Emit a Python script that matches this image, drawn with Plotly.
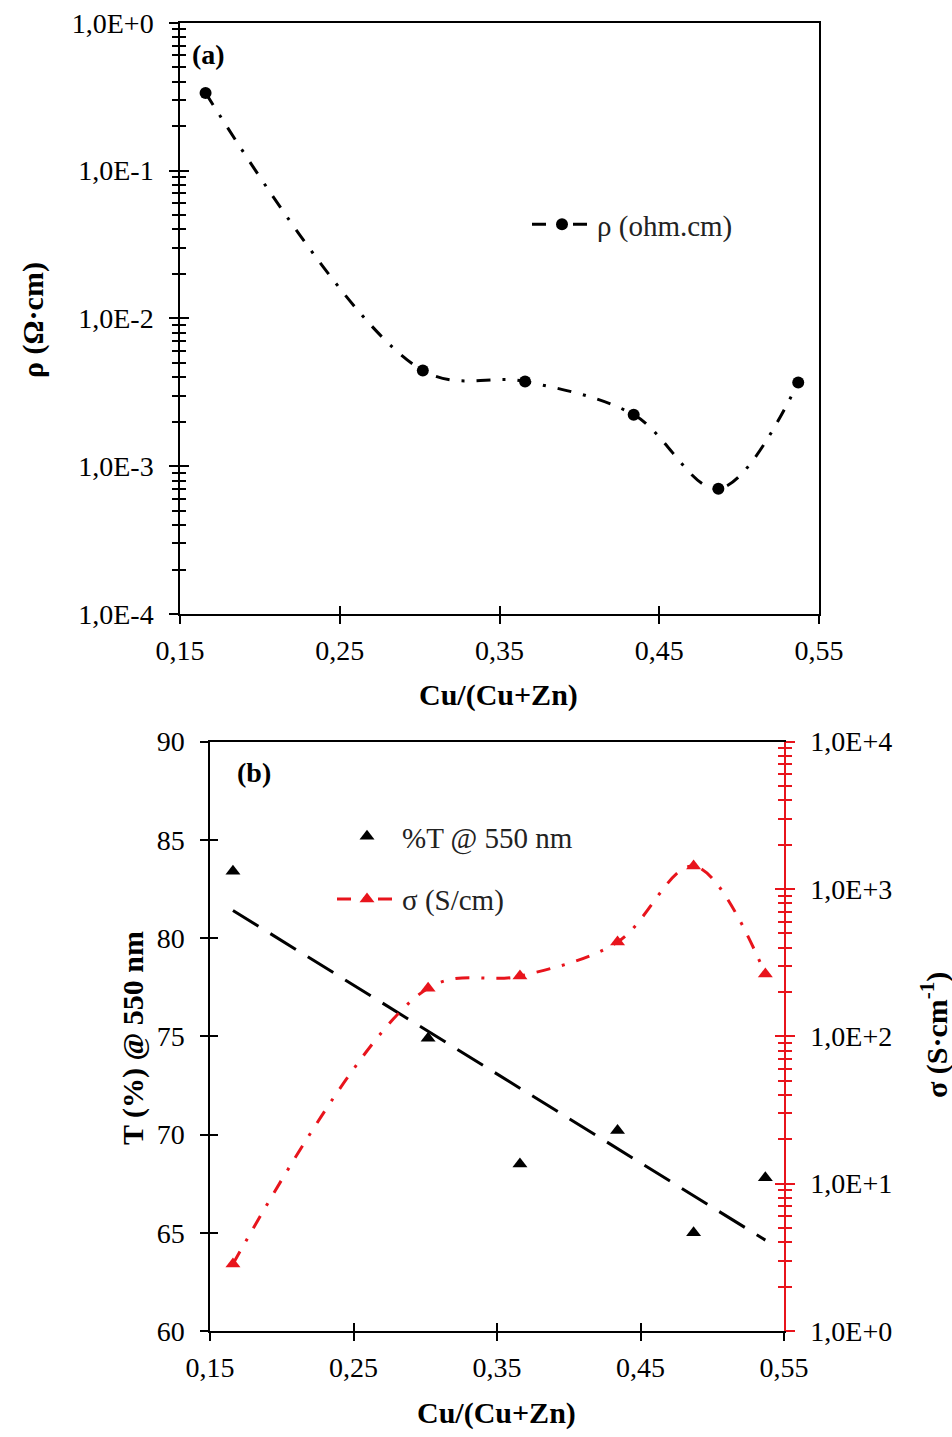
import numpy as np
import plotly.graph_objects as go

# ---------------- data ----------------
cu_ratio = [0.166, 0.302, 0.366, 0.434, 0.487, 0.537]
resistivity = [0.335, 0.00444, 0.00374, 0.00223, 0.000704, 0.00368]      # ohm.cm
transmittance = [83.4, 74.9, 68.5, 70.2, 65.0, 67.8]                    # % @ 550 nm
conductivity = [2.85, 212, 256, 436, 1428, 264]                          # S/cm

x_ticks = [0.15, 0.25, 0.35, 0.45, 0.55]
x_tick_text = ["0,15", "0,25", "0,35", "0,45", "0,55"]
rho_ticks = [1e-4, 1e-3, 1e-2, 1e-1, 1e0]
rho_tick_text = ["1,0E-4", "1,0E-3", "1,0E-2", "1,0E-1", "1,0E+0"]
t_ticks = [60, 65, 70, 75, 80, 85, 90]
t_tick_text = ["60", "65", "70", "75", "80", "85", "90"]
sigma_ticks = [1e0, 1e1, 1e2, 1e3, 1e4]
sigma_tick_text = ["1,0E+0", "1,0E+1", "1,0E+2", "1,0E+3", "1,0E+4"]

# ---------------- layout helpers ----------------
W, H = 952, 1437
def px(v):
    return v / W
def py(v):
    return 1 - v / H

RED = "#e8141c"
FONT = "Liberation Serif"
TICK_FONT = dict(family=FONT, size=28, color="black")

rho_minor = [k * 10.0 ** e for e in range(-4, 0) for k in range(2, 10)]
sig_minor = [k * 10.0 ** e for e in range(0, 4) for k in range(2, 10)]

# linear trendline of transmittance
slope, intercept = np.polyfit(cu_ratio, transmittance, 1)
trend_x = [min(cu_ratio), max(cu_ratio)]
trend_y = [slope * v + intercept for v in trend_x]

fig = go.Figure()

# ----- panel (a) -----
fig.add_trace(go.Scatter(
    x=cu_ratio, y=resistivity, mode="lines+markers", name="ρ (ohm.cm)",
    line=dict(color="black", width=3, dash="14px,12px,3px,12px", shape="spline", smoothing=1.0),
    marker=dict(symbol="circle", size=12, color="black"),
    xaxis="x", yaxis="y", legend="legend"))
fig.add_trace(go.Scatter(
    x=[cu_ratio[0]], y=[resistivity[0]], mode="markers", marker=dict(opacity=0),
    xaxis="x3", yaxis="y3", showlegend=False, hoverinfo="skip"))

# ----- panel (b) -----
fig.add_trace(go.Scatter(
    x=cu_ratio, y=transmittance, mode="markers", name="%T @ 550 nm",
    marker=dict(symbol="triangle-up", size=13, color="black"),
    xaxis="x2", yaxis="y2", legend="legend2", legendgroup="t"))
fig.add_trace(go.Scatter(
    x=trend_x, y=trend_y, mode="lines", showlegend=False,
    line=dict(color="black", width=3, dash="30px,14px"),
    xaxis="x2", yaxis="y2", hoverinfo="skip"))
fig.add_trace(go.Scatter(
    x=cu_ratio, y=conductivity, mode="lines+markers", name="σ (S/cm)",
    line=dict(color=RED, width=3, dash="14px,12px,3px,12px", shape="spline", smoothing=1.0),
    marker=dict(symbol="triangle-up", size=13, color=RED),
    xaxis="x2", yaxis="y5", legend="legend2", legendgroup="s"))
fig.add_trace(go.Scatter(
    x=[cu_ratio[0]], y=[transmittance[0]], mode="markers", marker=dict(opacity=0),
    xaxis="x4", yaxis="y6", showlegend=False, hoverinfo="skip"))
fig.add_trace(go.Scatter(
    x=[cu_ratio[0]], y=[conductivity[0]], mode="markers", marker=dict(opacity=0),
    xaxis="x4", yaxis="y7", showlegend=False, hoverinfo="skip"))

top_x = [px(180), px(819)]
top_y = [py(614), py(22.7)]
bot_x = [px(210), px(784)]
bot_y = [py(1331), py(741.5)]

common = dict(showgrid=False, zeroline=False, automargin=False)

def xmain(domain, anchor):
    return dict(domain=domain, anchor=anchor, range=[0.15, 0.55], tickmode="array",
                tickvals=x_ticks, ticktext=x_tick_text, ticks="outside", ticklen=8,
                tickwidth=1.5, tickcolor="black", showline=True, linecolor="black",
                linewidth=1.5, mirror=True, tickfont=TICK_FONT, ticklabelstandoff=3, **common)

def xover(over, anchor):
    return dict(overlaying=over, anchor=anchor, range=[0.15, 0.55], tickmode="array",
                tickvals=x_ticks, ticks="inside", ticklen=8, tickwidth=1.5,
                tickcolor="black", showticklabels=False, showline=False, **common)

fig.update_layout(
    width=W, height=H, autosize=False,
    margin=dict(l=0, r=0, t=0, b=0),
    paper_bgcolor="white", plot_bgcolor="white",
    font=dict(family=FONT, color="black"),
    xaxis=xmain(top_x, "y"),
    xaxis3=xover("x", "y"),
    yaxis=dict(domain=top_y, anchor="x", type="log", range=[-4, 0], tickmode="array",
               tickvals=rho_ticks, ticktext=rho_tick_text, ticks="outside", ticklen=9,
               tickwidth=1.5, tickcolor="black", showline=True, linecolor="black",
               linewidth=1.5, mirror=True, tickfont=TICK_FONT, ticklabelstandoff=10,
               minor=dict(tickmode="array", tickvals=rho_minor, ticks="outside",
                          ticklen=6, tickwidth=1.5, tickcolor="black"), **common),
    yaxis3=dict(overlaying="y", anchor="x", type="log", range=[-4, 0], tickmode="array",
                tickvals=rho_ticks, ticks="inside", ticklen=9, tickwidth=1.5,
                tickcolor="black", showticklabels=False, showline=False,
                minor=dict(tickmode="array", tickvals=rho_minor, ticks="inside",
                           ticklen=6, tickwidth=1.5, tickcolor="black"), **common),
    xaxis2=xmain(bot_x, "y2"),
    xaxis4=xover("x2", "y2"),
    yaxis2=dict(domain=bot_y, anchor="x2", range=[60, 90], tickmode="array",
                tickvals=t_ticks, ticktext=t_tick_text, ticks="outside", ticklen=8,
                tickwidth=1.5, tickcolor="black", showline=True, linecolor="black",
                linewidth=1.5, mirror=False, tickfont=TICK_FONT, ticklabelstandoff=10,
                **common),
    yaxis6=dict(overlaying="y2", anchor="x2", range=[60, 90], tickmode="array",
                tickvals=t_ticks, ticks="inside", ticklen=8, tickwidth=1.5,
                tickcolor="black", showticklabels=False, showline=False, **common),
    yaxis5=dict(overlaying="y2", anchor="x2", side="right", type="log", range=[0, 4],
                tickmode="array", tickvals=sigma_ticks, ticktext=sigma_tick_text,
                ticks="outside", ticklen=9, tickwidth=1.5, tickcolor=RED, showline=True,
                linecolor=RED, linewidth=1.5, tickfont=TICK_FONT, ticklabelstandoff=10,
                minor=dict(tickmode="array", tickvals=sig_minor, ticks="outside",
                           ticklen=6, tickwidth=1.5, tickcolor=RED), **common),
    yaxis7=dict(overlaying="y2", anchor="x2", side="right", type="log", range=[0, 4],
                tickmode="array", tickvals=sigma_ticks, ticks="inside", ticklen=9,
                tickwidth=1.5, tickcolor=RED, showticklabels=False, showline=False,
                minor=dict(tickmode="array", tickvals=sig_minor, ticks="inside",
                           ticklen=6, tickwidth=1.5, tickcolor=RED), **common),
    legend=dict(x=px(527), y=py(199), xanchor="left", yanchor="top",
                bgcolor="rgba(0,0,0,0)", itemwidth=60,
                font=dict(family=FONT, size=29, color="#222")),
    legend2=dict(x=px(332), y=py(811), xanchor="left", yanchor="top",
                 bgcolor="rgba(0,0,0,0)", itemwidth=60, traceorder="grouped",
                 tracegroupgap=22, font=dict(family=FONT, size=29, color="#222")),
    showlegend=True,
)

def label(text, x, y, size=30, angle=0):
    fig.add_annotation(text=text, x=px(x), y=py(y), xref="paper", yref="paper",
                       xanchor="center", yanchor="middle", showarrow=False,
                       textangle=angle, font=dict(family=FONT, size=size, color="black"))

label("<b>ρ (Ω·cm)</b>", 33, 320, angle=-90)
label("<b>Cu/(Cu+Zn)</b>", 498, 695)
label("<b>(a)</b>", 208, 55, size=28)
label("<b>(b)</b>", 254, 773, size=28)
label("<b>T (%) @ 550 nm</b>", 133, 1038, angle=-90)
label("<b>σ (S·cm<sup>-1</sup>)</b>", 934, 1035, angle=-90)
label("<b>Cu/(Cu+Zn)</b>", 496, 1413)

fig.write_html("out.html")
